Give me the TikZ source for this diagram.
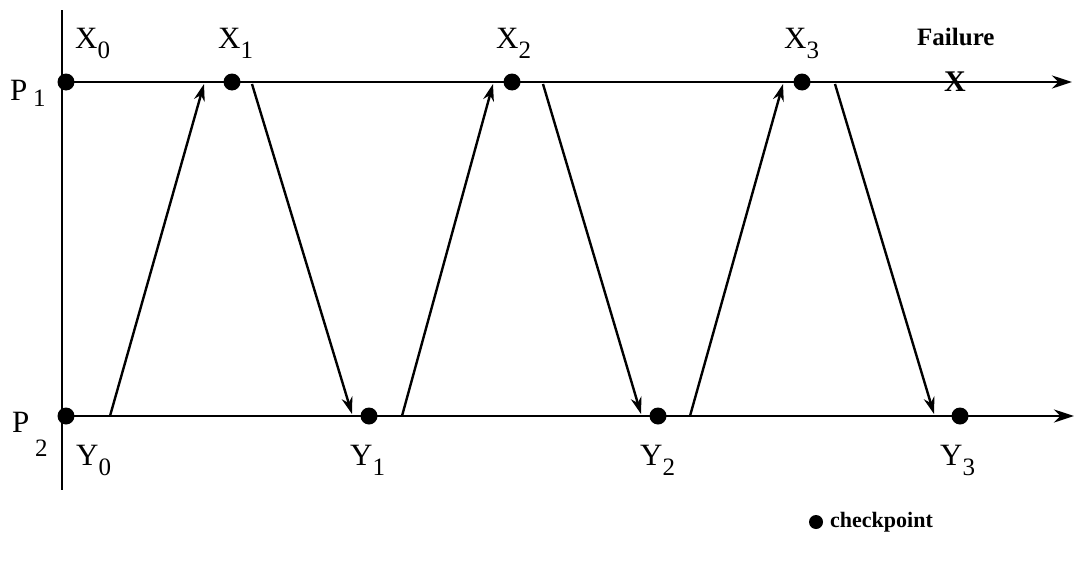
\documentclass[tikz,border=0pt]{standalone}
\usepackage{fontspec}
\setmainfont{Liberation Serif}
\usetikzlibrary{arrows.meta}
\newcommand\lbl[2]{#1\raisebox{-10pt}{\fontsize{25}{25}\selectfont #2}}
\begin{document}
\begin{tikzpicture}[x=1pt,y=-1pt,
  axisline/.style={line width=2.6pt},
  timeline/.style={line width=2.8pt,-{Stealth[length=20pt,width=13pt]}},
  msg/.style={line width=2.4pt,-{Stealth[length=17pt,width=11pt]}},
  ckpt/.style={circle,fill=black,inner sep=0pt,minimum size=17pt},
  lab/.style={anchor=base west,inner sep=0pt,font=\fontsize{31}{31}\selectfont}]
\useasboundingbox (0,0) rectangle (1074,570);
% vertical axis
\coordinate (atop) at (62,10);
\coordinate (abot) at (62,490);
\draw[axisline] (atop) -- (abot);
% time lines
\coordinate (p1s) at (62,82);
\coordinate (p1e) at (1072,82);
\coordinate (p2s) at (62,416);
\coordinate (p2e) at (1074,416);
\draw[timeline] (p1s) -- (p1e);
\draw[timeline] (p2s) -- (p2e);
% checkpoints
\node[ckpt] (x0) at (66,82) {};
\node[ckpt] (x1) at (232,82) {};
\node[ckpt] (x2) at (512,82) {};
\node[ckpt] (x3) at (802,82) {};
\node[ckpt] (y0) at (66,416) {};
\node[ckpt] (y1) at (369,416) {};
\node[ckpt] (y2) at (658,416) {};
\node[ckpt] (y3) at (960,416) {};
% messages
\coordinate (u1s) at (110,416); \coordinate (u1e) at (204,84);
\coordinate (u2s) at (402,416); \coordinate (u2e) at (493,84);
\coordinate (u3s) at (690,416); \coordinate (u3e) at (783,84);
\coordinate (d1s) at (252,84); \coordinate (d1e) at (352,414);
\coordinate (d2s) at (543,84); \coordinate (d2e) at (641,414);
\coordinate (d3s) at (835,84); \coordinate (d3e) at (934,414);
\draw[msg] (u1s) -- (u1e);
\draw[msg] (u2s) -- (u2e);
\draw[msg] (u3s) -- (u3e);
\draw[msg] (d1s) -- (d1e);
\draw[msg] (d2s) -- (d2e);
\draw[msg] (d3s) -- (d3e);
% labels
\node[lab] (lx0) at (75,48) {\lbl{X}{0}};
\node[lab] (lx1) at (218,48) {\lbl{X}{1}};
\node[lab] (lx2) at (496,48) {\lbl{X}{2}};
\node[lab] (lx3) at (784,48) {\lbl{X}{3}};
\node[lab] (ly0) at (76,465) {\lbl{Y}{0}};
\node[lab] (ly1) at (350,465) {\lbl{Y}{1}};
\node[lab] (ly2) at (640,465) {\lbl{Y}{2}};
\node[lab] (ly3) at (940,465) {\lbl{Y}{3}};
\node[lab] (lp1) at (10,100) {P};
\node[lab,font=\fontsize{25}{25}\selectfont] (lp1s) at (33,106) {1};
\node[lab] (lp2) at (12,432) {P};
\node[lab,font=\fontsize{25}{25}\selectfont] (lp2s) at (35,456) {2};
\node[anchor=base west,inner sep=0pt,font=\fontsize{25}{25}\bfseries\selectfont] (fail) at (917,45) {Failure};
\node[inner sep=0pt,font=\fontsize{30}{30}\bfseries\selectfont] (fx) at (955,82) {X};
% legend
\node[circle,fill=black,inner sep=0pt,minimum size=14pt] (legdot) at (816,522) {};
\node[anchor=west,inner sep=0pt,font=\fontsize{22}{22}\bfseries\selectfont] (legtxt) at (830,522) {checkpoint};
\end{tikzpicture}
\end{document}
